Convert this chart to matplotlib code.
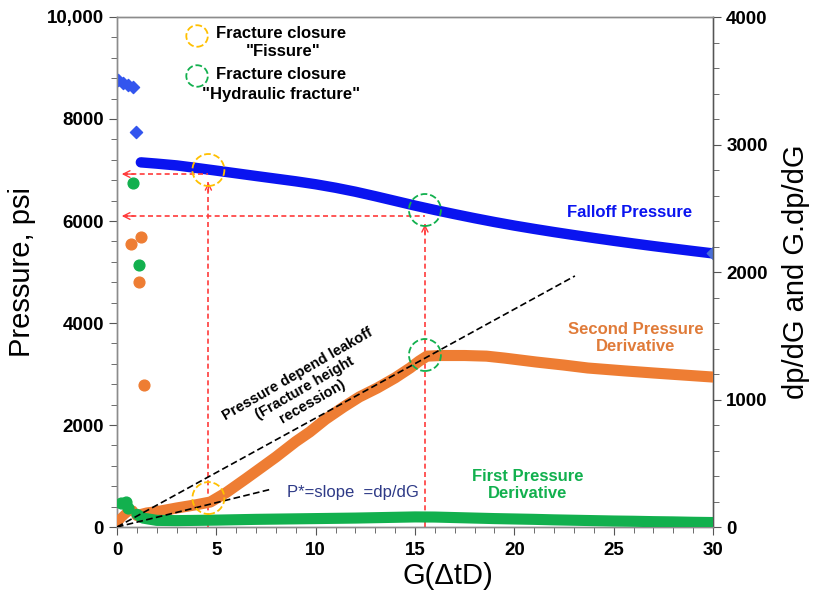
import matplotlib
matplotlib.use("Agg")
import matplotlib.pyplot as plt
from matplotlib.ticker import MultipleLocator

plt.rcParams['font.family'] = ['Liberation Sans', 'DejaVu Sans']

# ---------------- data ----------------
# Falloff pressure (psi, left axis)
p_early_g = [0.05, 0.3, 0.55, 0.8, 0.95]
p_early_v = [8760, 8700, 8660, 8620, 7750]
p_g = [1.2, 2, 3, 4, 5, 6, 7, 8, 9, 10, 11, 12, 13, 14, 15, 16, 17, 18, 19, 20,
       21, 22, 23, 24, 25, 26, 27, 28, 29, 30]
p_v = [7150, 7125, 7090, 7040, 6988, 6935, 6882, 6830, 6778, 6720, 6652, 6574,
       6486, 6394, 6302, 6216, 6134, 6055, 5980, 5910, 5845, 5783, 5724, 5667,
       5612, 5559, 5508, 5459, 5411, 5364]

# Second pressure derivative G*dp/dG (right axis)
d2_early_g = [0.7, 1.1, 1.2, 1.35]
d2_early_v = [2220, 1922, 2275, 1114]
d2_tail_g = [0.05, 0.2, 0.4, 0.6, 0.8]
d2_tail_v = [40, 70, 100, 125, 130]
d2_g = [1.0, 1.5, 2, 3, 4, 4.7, 5.5, 6.5, 7.3, 8, 9, 9.7, 10.5, 11.4, 12.2,
        13.1, 14, 14.75, 15.2, 15.6, 16.3, 17.5, 18.6, 19.5, 21.1, 22.5, 23.7,
        25.5, 27, 28.5, 30]
d2_v = [90, 110, 120, 149, 175, 196, 270, 380, 470, 549, 670, 745, 845, 941,
        1020, 1090, 1170, 1247, 1300, 1340, 1345, 1345, 1340, 1325, 1294, 1270,
        1247, 1225, 1208, 1192, 1176]

# First pressure derivative dp/dG (right axis)
d1_early_g = [0.2, 0.45, 0.55, 0.8, 1.1]
d1_early_v = [185, 195, 150, 2698, 2055]
d1_g = [1.0, 1.3, 2, 3, 4, 5, 6, 7, 8, 9, 10, 11, 12, 13, 14, 15, 16, 17, 18,
        19, 20, 21, 22, 23, 24, 25, 26, 27, 28, 29, 30]
d1_v = [100, 70, 52, 50, 52, 54, 57, 60, 62, 64, 66, 68, 70, 73, 76, 79, 78, 74,
        70, 66, 63, 60, 56, 53, 50, 47, 45, 42, 40, 37, 35]

# Closure points
g_fissure = 4.6
g_hydraulic = 15.5
p_fissure = 6920
p_hydraulic = 6098
# Straight-line guides (right axis)
leak_line_g = [0, 23.05]
leak_line_v = [0, 1969]
slope_line_g = [0, 7.8]
slope_line_v = [0, 298]

x_ticks = [0, 5, 10, 15, 20, 25, 30]
y_left_ticks = [0, 2000, 4000, 6000, 8000, 10000]
y_left_labels = ['0', '2000', '4000', '6000', '8000', '10,000']
y_right_ticks = [0, 1000, 2000, 3000, 4000]

BLUE = '#0A14F0'
ORANGE = '#EE7D33'
GREEN = '#12B04E'
RED = '#FF3B3B'
GOLD = '#FFC000'

fig = plt.figure(figsize=(8.17, 5.96), dpi=100)
ax = fig.add_axes([117/817, 1-527/596, (713-117)/817, (527-17)/596])
ax2 = ax.twinx()

ax.set_xlim(0, 30)
ax.set_ylim(0, 10000)
ax2.set_ylim(0, 4000)

# pressure
ax.plot(p_g, p_v, color=BLUE, lw=7.5, solid_capstyle='round',
        solid_joinstyle='round', zorder=3)
ax.scatter(p_early_g, p_early_v, marker='D', s=38, color='#3355EE', zorder=3)
ax.scatter([p_g[-1]], [p_v[-1]], marker='D', s=40, color='#4A6FD8', zorder=4)

# derivatives
ax2.plot(d2_tail_g, d2_tail_v, color=ORANGE, lw=7, solid_capstyle='round', zorder=3)
ax2.plot(d2_g, d2_v, color=ORANGE, lw=8, solid_capstyle='round',
         solid_joinstyle='round', zorder=3)
ax2.scatter(d2_early_g, d2_early_v, s=60, color=ORANGE, zorder=3)
ax2.plot(d1_g, d1_v, color=GREEN, lw=8, solid_capstyle='round',
         solid_joinstyle='round', zorder=3)
ax2.scatter(d1_early_g, d1_early_v, s=60, color=GREEN, zorder=3)

# guide lines
ax2.plot(leak_line_g, leak_line_v, color='black', lw=1.2, ls=(0, (4, 2)), zorder=5)
ax2.plot(slope_line_g, slope_line_v, color='black', lw=1.2, ls=(0, (4, 2)), zorder=5)

# red arrows
for g, p in [(g_fissure, p_fissure), (g_hydraulic, p_hydraulic)]:
    ax.plot([g, g], [0, p - 160], color=RED, lw=1.2, ls=(0, (3, 2)), zorder=6)
    ax.annotate('', xy=(g, p - 110), xytext=(g, p - 400),
                arrowprops=dict(arrowstyle='->', color=RED, lw=1.0,
                                mutation_scale=11), zorder=6)
    ax.plot([0.3, g], [p, p], color=RED, lw=1.2, ls=(0, (3, 2)), zorder=6)
    ax.annotate('', xy=(0.1, p), xytext=(1.0, p),
                arrowprops=dict(arrowstyle='->', color=RED, lw=1.0,
                                mutation_scale=12), zorder=6)

# closure circles
circ = dict(facecolors='none', linewidths=1.3, linestyle='--', zorder=7)
ax2.scatter([g_fissure], [227], s=530, edgecolors=GOLD, **circ)
ax2.scatter([g_hydraulic], [1349], s=530, edgecolors=GREEN, **circ)
ax2.scatter([g_fissure], [(527-170)/0.1275], s=530, edgecolors=GOLD, **circ)
ax2.scatter([g_hydraulic], [(527-210)/0.1275], s=530, edgecolors=GREEN, **circ)
# legend circles
ax2.scatter([4.03], [(527-36)/0.1275], s=240, edgecolors=GOLD, **circ)
ax2.scatter([4.03], [(527-76)/0.1275], s=240, edgecolors=GREEN, **circ)

tb = dict(fontsize=12, fontweight='bold', ha='center', va='center')
ax.text(8.25, (527-33)/0.051, 'Fracture closure', **tb)
ax.text(8.35, (527-52)/0.051, '"Fissure"', **tb)
ax.text(8.25, (527-75)/0.051, 'Fracture closure', **tb)
ax.text(8.25, (527-95)/0.051, '"Hydraulic fracture"', **tb)

ax.text((630-117)/19.87, (527-213)/0.051, 'Falloff Pressure', color=BLUE, **tb)
ax.text((636-117)/19.87, (527-338)/0.051, 'Second Pressure\nDerivative',
        color='#E07B39', linespacing=1.15, **tb)
ax.text((528-117)/19.87, (527-485)/0.051, 'First Pressure\nDerivative',
        color=GREEN, linespacing=1.15, **tb)
ax.text((287-117)/19.87, (527-493)/0.051, 'P*=slope  =dp/dG', color='#2E3A87',
        fontsize=12, ha='left', va='center')
ax.text((305-117)/19.87, (527-388)/0.051,
        'Pressure depend leakoff\n(Fracture height\nrecession)',
        fontsize=10.5, fontweight='bold', ha='center', va='center',
        rotation=30, rotation_mode='anchor', multialignment='center',
        linespacing=1.15)

# axes styling
ax.set_xticks(x_ticks)
ax.xaxis.set_minor_locator(MultipleLocator(1))
ax.set_yticks(y_left_ticks)
ax.set_yticklabels(y_left_labels)
ax.yaxis.set_minor_locator(MultipleLocator(400))
ax2.set_yticks(y_right_ticks)
ax2.yaxis.set_minor_locator(MultipleLocator(200))

for a in (ax, ax2):
    for s in a.spines.values():
        s.set_color('#8C8C8C')
        s.set_linewidth(1.0)
    a.tick_params(which='both', color='#555555', labelsize=13.5, direction='out')
    a.tick_params(which='major', length=6)
    a.tick_params(which='minor', length=4)
    for lab in a.get_xticklabels() + a.get_yticklabels():
        lab.set_fontweight('bold')
ax2.spines['right'].set_color('#555555')
ax.tick_params(axis='x', pad=5)

ax.set_xlabel('G(ΔtD)', fontsize=21, labelpad=0)
ax.xaxis.set_label_coords((448-117)/596, -0.068)
ax.set_ylabel('Pressure, psi', fontsize=21, labelpad=8)
ax2.set_ylabel('dp/dG and G.dp/dG', fontsize=21, labelpad=10)

ax.set_zorder(ax2.get_zorder() - 1)
ax.patch.set_visible(False)
fig.savefig('out.png', dpi=100)
